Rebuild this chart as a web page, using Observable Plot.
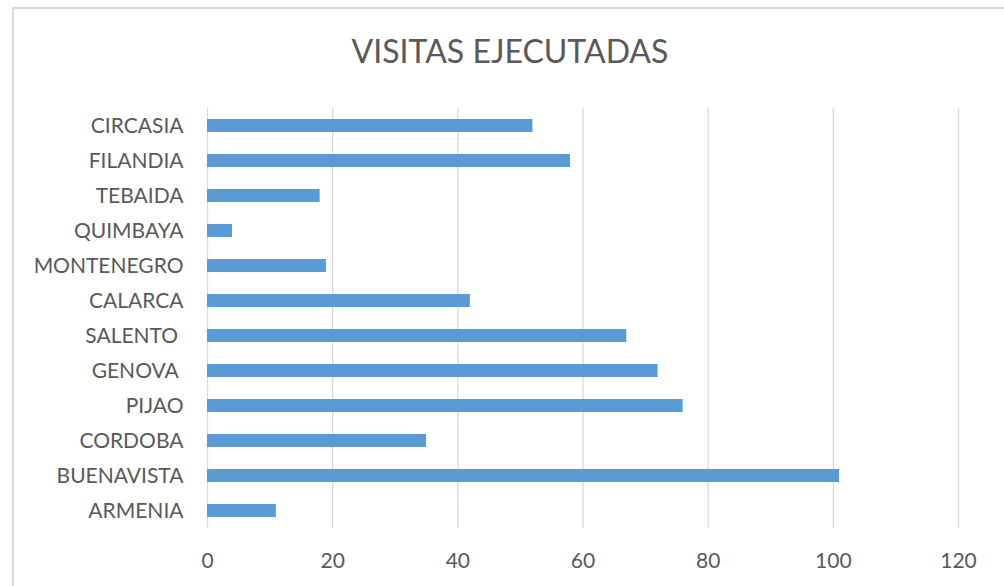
<!DOCTYPE html>
<html><head><meta charset="utf-8">
<script src="https://cdn.jsdelivr.net/npm/d3@7"></script>
<script src="https://cdn.jsdelivr.net/npm/@observablehq/plot@0.6"></script>
<style>
body{margin:0;background:#fff;}
#wrap{position:relative;width:1004px;height:586px;overflow:hidden;background:#fff;}
#frame{position:absolute;left:12px;top:7px;width:1010px;height:600px;border-left:2px solid #d9d9d9;border-top:2px solid #d9d9d9;}
#title{position:absolute;left:0;width:1020px;top:31px;text-align:center;font-family:Lato;font-weight:400;font-size:32px;line-height:normal;color:#595959;}
#chart{position:absolute;left:0;top:0;}
svg text{white-space:pre;}
</style></head><body>
<div id="wrap"><div id="frame"></div><div id="title">VISITAS EJECUTADAS</div><div id="chart"></div></div>
<script>
const municipios = ["CIRCASIA","FILANDIA","TEBAIDA","QUIMBAYA","MONTENEGRO","CALARCA","SALENTO ","GENOVA ","PIJAO","CORDOBA","BUENAVISTA","ARMENIA"];
const visitas = [52,58,18,4,19,42,67,72,76,35,101,11];
const xTicks = [0,20,40,60,80,100,120];
const data = municipios.map((m,i)=>({municipio:m, visitas:visitas[i]}));
const chart = Plot.plot({
  width:1004, height:586, marginLeft:207, marginRight:46, marginTop:108, marginBottom:58,
  style:{fontFamily:"Lato", fontSize:"21px", fontWeight:400, color:"#595959", background:"transparent", overflow:"visible"},
  x:{domain:[0,120], label:null},
  y:{domain:municipios, paddingInner:0.63, paddingOuter:0.315, label:null},
  marks:[
    Plot.ruleX(xTicks,{stroke:"#d9d9d9", strokeWidth:1.3}),
    Plot.barX(data,{x:"visitas", y:"municipio", fill:"#5b9bd5"}),
    Plot.axisX({ticks:xTicks, tickSize:0, tickPadding:25, label:null, fill:"#595959", fontSize:21}),
    Plot.axisY({tickSize:0, tickPadding:24, label:null, fill:"#595959", fontSize:21})
  ]
});
document.getElementById("chart").appendChild(chart);
</script>
</body></html>
